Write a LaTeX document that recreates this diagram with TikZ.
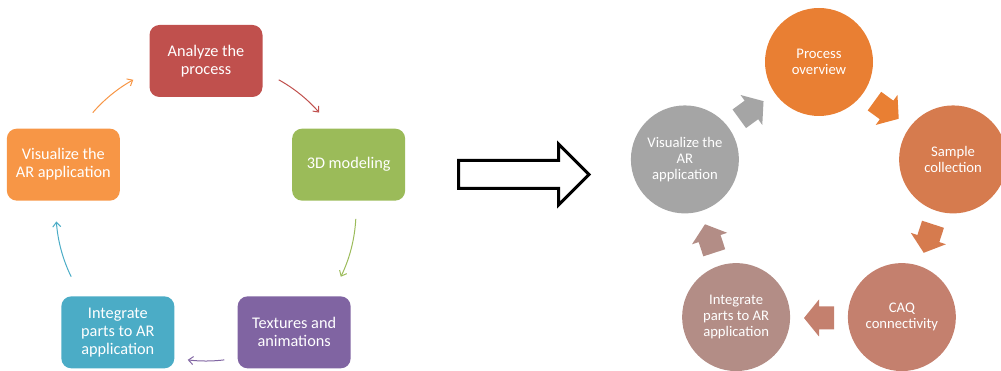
\documentclass[tikz,border=0pt]{standalone}
\usepackage{fontspec}
\setmainfont{Carlito}
\usepackage{tikz}
\usetikzlibrary{arrows.meta,calc}
\definecolor{anred}{HTML}{C0504D}
\definecolor{modgreen}{HTML}{9BBB59}
\definecolor{texpurple}{HTML}{8064A2}
\definecolor{intblue}{HTML}{4BACC6}
\definecolor{visorange}{HTML}{F79646}
\definecolor{poorange}{HTML}{E97F33}
\definecolor{scbrown}{HTML}{D67B4E}
\definecolor{caqrose}{HTML}{C4806E}
\definecolor{iptaupe}{HTML}{B38D86}
\definecolor{vagray}{HTML}{A5A5A5}
% block arrow of the right cycle: #1 angle on the ring, #2 colour
\newcommand{\blkarrow}[2]{%
  \fill[#2,shift={($(rc)+(#1:115)$)},rotate=#1-90]
    (-15,-11.5) -- (0,-11.5) -- (0,-18.5) -- (15,0) -- (0,18.5) -- (0,11.5) -- (-15,11.5) -- cycle;}

\begin{document}
\begin{tikzpicture}[x=0.75pt,y=0.75pt,
box/.style={rounded corners=7.5pt,minimum width=84.75pt,minimum height=54pt,inner sep=1pt,align=center,text=white,font=\fontsize{12.2}{13.5}\selectfont},
disc/.style={circle,minimum size=81pt,inner sep=0pt,align=center,text=white,font=\fontsize{11}{12}\selectfont},
carr/.style={-{Straight Barb[length=3.5pt,width=6pt]},line width=0.75pt},
hollow/.style={draw=black,fill=white,line width=2.25pt,miter limit=10}
]
\useasboundingbox (0,0) rectangle (1001,371);
% left cycle
\coordinate (lc) at (206,160);
\node[box,fill=anred] (an) at ($(lc)+(90:150)$) {Analyze the\\process};
\node[box,fill=modgreen] (mod) at ($(lc)+(18:150)$) {3D modeling};
\node[box,fill=texpurple] (tex) at ($(lc)+(-54:150)$) {Textures and\\animations};
\node[box,fill=intblue] (integ) at ($(lc)+(-126:150)$) {Integrate\\parts to AR\\application};
\node[box,fill=visorange] (vis) at ($(lc)+(162:150)$) {Visualize the\\AR application};
\draw[carr,anred] (lc) ++(61:150) arc[start angle=61,end angle=41,radius=150];
\draw[carr,modgreen] (lc) ++(-3:150) arc[start angle=-3,end angle=-26,radius=150];
\draw[carr,texpurple] (lc) ++(-83:150) arc[start angle=-83,end angle=-97,radius=150];
\draw[carr,intblue] (lc) ++(-154:150) arc[start angle=-154,end angle=-176,radius=150];
\draw[carr,visorange] (lc) ++(139:150) arc[start angle=139,end angle=119,radius=150];
% hollow arrow
\draw[hollow] (458.5,182.5) -- (558.5,182.5) -- (558.5,166) -- (589,196.5) -- (558.5,227) -- (558.5,210.5) -- (458.5,210.5) -- cycle;
% right cycle
\coordinate (rc) at (819,168);
\node[disc,fill=poorange] (po) at ($(rc)+(90:141)$) {Process\\overview};
\node[disc,fill=scbrown] (sc) at ($(rc)+(18:141)$) {Sample\\collection};
\node[disc,fill=caqrose] (caq) at ($(rc)+(-54:141)$) {CAQ\\connectivity};
\node[disc,fill=iptaupe] (ip) at ($(rc)+(-126:141)$) {Integrate\\parts to AR\\application};
\node[disc,fill=vagray] (va) at ($(rc)+(162:141)$) {Visualize the\\AR\\application};
\blkarrow{54}{poorange}
\blkarrow{-18}{scbrown}
\blkarrow{-90}{caqrose}
\blkarrow{-162}{iptaupe}
\blkarrow{126}{vagray}
\end{tikzpicture}
\end{document}
